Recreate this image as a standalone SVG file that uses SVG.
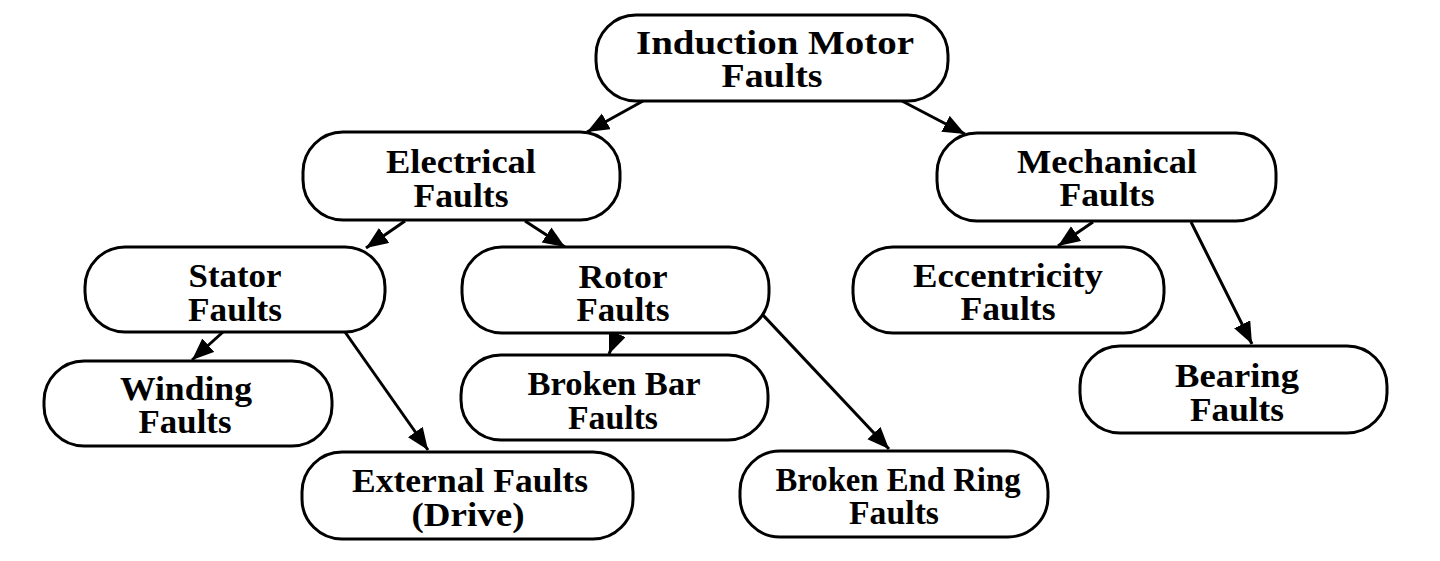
<svg xmlns="http://www.w3.org/2000/svg" width="1440" height="561" viewBox="0 0 1440 561">
<style>
.box{fill:#fff;stroke:#000;stroke-width:3}
.t{font-family:"Liberation Serif","Times New Roman",serif;font-weight:bold;font-size:33px;fill:#000;text-anchor:middle}
.c{stroke:#000;stroke-width:3;fill:none;marker-end:url(#ah)}
</style>
<defs>
<marker id="ah" markerUnits="userSpaceOnUse" markerWidth="24" markerHeight="20" refX="22" refY="9" orient="auto">
<path d="M0,0 L22,9 L0,18 z" fill="#000"/>
</marker>
</defs>
<rect width="1440" height="561" fill="#fff"/>
<g id="connectors">
<line class="c" x1="643" y1="101" x2="587" y2="132"/>
<line class="c" x1="902" y1="101" x2="965" y2="134"/>
<line class="c" x1="405" y1="221" x2="366" y2="248"/>
<line class="c" x1="525" y1="221" x2="565" y2="247"/>
<line class="c" x1="223" y1="332" x2="192" y2="360"/>
<line class="c" x1="345" y1="332" x2="428" y2="450"/>
<line class="c" x1="618" y1="332" x2="609" y2="354"/>
<line class="c" x1="763" y1="315" x2="889" y2="449"/>
<line class="c" x1="1093" y1="222" x2="1058" y2="246"/>
<line class="c" x1="1191" y1="222" x2="1252" y2="344"/>
</g>
<g id="n-induction">
<rect class="box" x="596" y="15" width="352" height="86" rx="40"/>
<text class="t" x="775" y="54" textLength="278" lengthAdjust="spacingAndGlyphs">Induction Motor</text>
<text class="t" x="772" y="87" textLength="101" lengthAdjust="spacingAndGlyphs">Faults</text>
</g>
<g id="n-electrical">
<rect class="box" x="303" y="132" width="317" height="88" rx="40"/>
<text class="t" x="461" y="173" textLength="150" lengthAdjust="spacingAndGlyphs">Electrical</text>
<text class="t" x="461" y="207" textLength="95" lengthAdjust="spacingAndGlyphs">Faults</text>
</g>
<g id="n-mechanical">
<rect class="box" x="937" y="133" width="339" height="88" rx="40"/>
<text class="t" x="1107" y="173" textLength="180" lengthAdjust="spacingAndGlyphs">Mechanical</text>
<text class="t" x="1107" y="206" textLength="95" lengthAdjust="spacingAndGlyphs">Faults</text>
</g>
<g id="n-stator">
<rect class="box" x="85" y="247" width="300" height="85" rx="40"/>
<text class="t" x="235" y="287" textLength="93" lengthAdjust="spacingAndGlyphs">Stator</text>
<text class="t" x="235" y="321" textLength="94" lengthAdjust="spacingAndGlyphs">Faults</text>
</g>
<g id="n-rotor">
<rect class="box" x="462" y="247" width="307" height="86" rx="40"/>
<text class="t" x="623" y="288" textLength="89" lengthAdjust="spacingAndGlyphs">Rotor</text>
<text class="t" x="623" y="321" textLength="93" lengthAdjust="spacingAndGlyphs">Faults</text>
</g>
<g id="n-eccentricity">
<rect class="box" x="853" y="247" width="311" height="86" rx="40"/>
<text class="t" x="1008" y="287" textLength="190" lengthAdjust="spacingAndGlyphs">Eccentricity</text>
<text class="t" x="1008" y="320" textLength="95" lengthAdjust="spacingAndGlyphs">Faults</text>
</g>
<g id="n-winding">
<rect class="box" x="44" y="361" width="288" height="85" rx="40"/>
<text class="t" x="186" y="400" textLength="132" lengthAdjust="spacingAndGlyphs">Winding</text>
<text class="t" x="185" y="433" textLength="93" lengthAdjust="spacingAndGlyphs">Faults</text>
</g>
<g id="n-brokenbar">
<rect class="box" x="461" y="355" width="307" height="85" rx="40"/>
<text class="t" x="614" y="395" textLength="173" lengthAdjust="spacingAndGlyphs">Broken Bar</text>
<text class="t" x="613" y="429" textLength="90" lengthAdjust="spacingAndGlyphs">Faults</text>
</g>
<g id="n-bearing">
<rect class="box" x="1080" y="346" width="307" height="87" rx="40"/>
<text class="t" x="1237" y="387" textLength="124" lengthAdjust="spacingAndGlyphs">Bearing</text>
<text class="t" x="1237" y="421" textLength="94" lengthAdjust="spacingAndGlyphs">Faults</text>
</g>
<g id="n-external">
<rect class="box" x="302" y="452" width="331" height="87" rx="40"/>
<text class="t" x="470" y="492" textLength="236" lengthAdjust="spacingAndGlyphs">External Faults</text>
<text class="t" x="468" y="526" textLength="113" lengthAdjust="spacingAndGlyphs">(Drive)</text>
</g>
<g id="n-brokenendring">
<rect class="box" x="740" y="451" width="308" height="86" rx="40"/>
<text class="t" x="898" y="491" textLength="245" lengthAdjust="spacingAndGlyphs">Broken End Ring</text>
<text class="t" x="894" y="524" textLength="90" lengthAdjust="spacingAndGlyphs">Faults</text>
</g>
</svg>
